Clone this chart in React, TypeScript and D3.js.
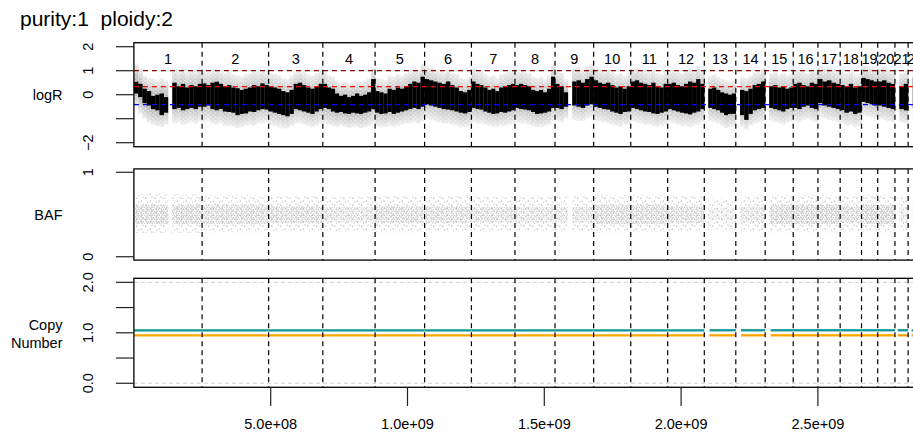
import React from 'react';
import * as d3 from 'd3';

// ---------- data ----------
const chromNames = ['1','2','3','4','5','6','7','8','9','10','11','12','13','14','15','16','17','18','19','20','21','22','X'];
const chromLengths = [249250621,243199373,198022430,191154276,180915260,171115067,159138663,146364022,141213431,135534747,135006516,133851895,115169878,107349540,102531392,90354753,81195210,78077248,59128983,63025520,48129895,51304566,155270560];

// logR: per chromosome, evenly spaced bins (null = no data)
const logRHi: (number | null)[][] = [
  [0.54,0.45,0.25,0.15,-0.05,0.0,0.05,-0.1,null,0.5,0.35,0.45,0.3,0.4,0.35,0.45],
  [0.47,0.40,0.50,0.54,0.45,0.35,0.40,0.30,0.27,0.20,0.25,0.30,0.40,0.35,0.47,0.40],
  [0.35,0.30,0.25,0.15,0.10,0.20,0.45,0.50,0.40,0.30,0.25,0.35,0.45],
  [0.45,0.30,0.25,0.05,-0.05,0.0,-0.1,-0.05,0.05,-0.05,0.0,0.1,0.65],
  [0.15,0.10,0.05,0.25,0.20,0.30,0.25,0.35,0.45,0.55,0.50,0.75],
  [0.65,0.60,0.55,0.50,0.45,0.55,0.40,0.30,0.15,0.10,0.20],
  [0.55,0.45,0.40,0.30,0.20,0.25,0.15,0.30,0.35,0.40,0.45],
  [0.40,0.45,0.40,0.35,0.20,0.15,0.20,0.10,0.25,0.75],
  [0.45,0.35,0.10,null,0.55,0.60,0.50,0.65,0.75],
  [0.60,0.50,0.45,0.50,0.40,0.30,0.35,0.25,0.35],
  [0.55,0.60,0.50,0.45,0.40,0.50,0.35,0.30,0.45],
  [0.45,0.50,0.40,0.35,0.45,0.55,0.50,0.65,0.45],
  [null,0.25,0.30,0.20,0.10,0.05,0.0,0.05],
  [null,0.20,0.15,0.25,0.40,0.45,0.55],
  [null,0.35,0.40,0.30,0.35,0.25,0.30],
  [0.45,0.50,0.40,0.35,0.50,0.45],
  [0.65,0.55,0.60,0.50,0.45],
  [0.40,0.35,0.45,0.30,0.35],
  [0.70,0.65,0.60,0.55],
  [0.55,0.60,0.50,0.45],
  [null,0.35,0.45],
  [null,0.70,0.55],
  [],
];
const logRLo: (number | null)[][] = [
  [0.05,-0.1,-0.35,-0.45,-0.6,-0.65,-0.85,-0.75,null,-0.6,-0.55,-0.65,-0.6,-0.55,-0.6,-0.5],
  [-0.5,-0.45,-0.6,-0.65,-0.6,-0.7,-0.72,-0.75,-0.85,-0.8,-0.78,-0.7,-0.72,-0.65,-0.6,-0.62],
  [-0.7,-0.75,-0.8,-0.85,-0.9,-0.8,-0.6,-0.65,-0.7,-0.75,-0.8,-0.7,-0.6],
  [-0.55,-0.6,-0.7,-0.75,-0.72,-0.78,-0.8,-0.75,-0.78,-0.8,-0.75,-0.7,-0.6],
  [-0.75,-0.8,-0.78,-0.72,-0.8,-0.75,-0.7,-0.65,-0.6,-0.55,-0.6,-0.5],
  [-0.4,-0.45,-0.5,-0.55,-0.6,-0.62,-0.65,-0.7,-0.75,-0.78,-0.72],
  [-0.55,-0.6,-0.62,-0.7,-0.75,-0.8,-0.78,-0.72,-0.75,-0.7,-0.65],
  [-0.55,-0.6,-0.62,-0.65,-0.72,-0.8,-0.78,-0.75,-0.7,-0.55],
  [-0.55,-0.6,-0.5,null,-0.45,-0.5,-0.55,-0.45,-0.4],
  [-0.5,-0.55,-0.6,-0.62,-0.7,-0.75,-0.8,-0.72,-0.7],
  [-0.55,-0.6,-0.65,-0.7,-0.72,-0.78,-0.8,-0.75,-0.7],
  [-0.6,-0.65,-0.7,-0.75,-0.78,-0.82,-0.75,-0.7,-0.6],
  [null,-0.55,-0.6,-0.65,-0.75,-0.85,-0.8,-0.8],
  [null,-0.85,-1.05,-0.8,-0.65,-0.6,-0.55],
  [null,-0.55,-0.6,-0.65,-0.7,-0.6,-0.55],
  [-0.55,-0.6,-0.5,-0.45,-0.55,-0.6],
  [-0.35,-0.45,-0.5,-0.55,-0.6],
  [-0.65,-0.75,-0.7,-0.8,-0.75],
  [-0.3,-0.35,-0.4,-0.45],
  [-0.45,-0.5,-0.55,-0.6],
  [null,-0.6,-0.65],
  [null,-0.55,-0.6],
  [],
];
const greyHi: (number | null)[][] = [
  [1.3,1.1,0.8,0.7,0.65,0.6,0.7,0.6,null,1.1,1.0,1.1,0.95,1.05,1.0,1.1],
  [1.0,0.95,1.05,1.1,1.0,0.9,0.95,0.85,0.8,0.75,0.85,0.9,1.0,0.95,1.05,1.0],
  [0.9,0.85,0.8,0.7,0.65,0.8,0.95,1.05,0.95,0.85,0.8,0.9,1.0],
  [0.95,0.8,0.75,0.6,0.5,0.55,0.5,0.55,0.6,0.55,0.6,0.7,1.15],
  [0.7,0.65,0.6,0.8,0.75,0.85,0.8,0.9,1.0,1.1,1.05,1.3],
  [1.2,1.15,1.1,1.0,0.95,1.05,0.9,0.85,0.7,0.65,0.75],
  [1.1,1.0,0.95,0.85,0.75,0.8,0.7,0.85,0.9,0.95,1.0],
  [0.95,1.0,0.95,0.9,0.75,0.7,0.75,0.65,0.8,1.3],
  [1.0,0.9,0.65,null,1.1,1.15,1.05,1.2,1.3],
  [1.15,1.05,1.0,1.05,0.95,0.85,0.9,0.8,0.9],
  [1.1,1.15,1.05,1.0,0.95,1.05,0.9,0.85,1.0],
  [1.0,1.05,0.95,0.9,1.0,1.1,1.05,1.2,1.0],
  [null,0.8,0.85,0.75,0.65,0.6,0.55,0.6],
  [null,0.75,0.7,0.8,0.95,1.0,1.1],
  [null,0.9,0.95,0.85,0.9,0.8,0.85],
  [1.0,1.05,0.95,0.9,1.05,1.0],
  [1.2,1.1,1.15,1.05,1.0],
  [0.95,0.9,1.0,0.85,0.9],
  [1.25,1.2,1.15,1.1],
  [1.1,1.15,1.05,1.0],
  [null,0.9,1.0],
  [null,1.25,1.1],
  [],
];
const greyLo: (number | null)[][] = [
  [-0.5,-0.8,-1.0,-1.15,-1.25,-1.3,-1.35,-1.25,null,-1.2,-1.15,-1.25,-1.2,-1.15,-1.2,-1.1],
  [-1.15,-1.1,-1.2,-1.25,-1.2,-1.3,-1.3,-1.35,-1.4,-1.35,-1.3,-1.25,-1.3,-1.2,-1.2,-1.15],
  [-1.25,-1.3,-1.35,-1.4,-1.4,-1.3,-1.2,-1.2,-1.25,-1.3,-1.35,-1.3,-1.2],
  [-1.2,-1.25,-1.3,-1.35,-1.3,-1.35,-1.4,-1.35,-1.35,-1.4,-1.35,-1.3,-1.2],
  [-1.3,-1.35,-1.35,-1.3,-1.35,-1.3,-1.25,-1.2,-1.2,-1.15,-1.2,-1.1],
  [-1.0,-1.05,-1.1,-1.15,-1.2,-1.2,-1.25,-1.3,-1.35,-1.35,-1.3],
  [-1.15,-1.2,-1.2,-1.25,-1.3,-1.35,-1.35,-1.3,-1.3,-1.25,-1.2],
  [-1.15,-1.2,-1.2,-1.25,-1.3,-1.35,-1.35,-1.3,-1.25,-1.1],
  [-1.1,-1.15,-1.0,null,-1.05,-1.1,-1.1,-1.0,-0.95],
  [-1.1,-1.1,-1.15,-1.2,-1.25,-1.3,-1.35,-1.25,-1.25],
  [-1.1,-1.15,-1.2,-1.25,-1.25,-1.3,-1.35,-1.3,-1.25],
  [-1.15,-1.2,-1.25,-1.3,-1.3,-1.35,-1.3,-1.25,-1.15],
  [null,-1.1,-1.15,-1.2,-1.3,-1.4,-1.35,-1.35],
  [null,-1.35,-1.45,-1.3,-1.2,-1.15,-1.1],
  [null,-1.1,-1.15,-1.2,-1.25,-1.15,-1.1],
  [-1.1,-1.15,-1.05,-1.0,-1.1,-1.15],
  [-0.9,-1.0,-1.05,-1.1,-1.15],
  [-1.2,-1.3,-1.25,-1.35,-1.3],
  [-0.85,-0.9,-0.95,-1.0],
  [-1.0,-1.05,-1.1,-1.15],
  [null,-1.15,-1.2],
  [null,-1.1,-1.15],
  [],
];

// BAF: per chromosome core band, outer band and density
const bafCoreLo = [0.39,0.39,0.40,0.41,0.40,0.40,0.41,0.41,0.41,0.39,0.39,0.40,0.42,0.41,0.39,0.39,0.39,0.40,0.39,0.39,0.41,0.40,0.41];
const bafCoreHi = [0.61,0.61,0.60,0.59,0.60,0.60,0.59,0.59,0.59,0.61,0.61,0.60,0.58,0.59,0.61,0.61,0.61,0.60,0.61,0.61,0.59,0.60,0.59];
const bafOuterLo = [0.28,0.29,0.30,0.30,0.29,0.30,0.30,0.31,0.30,0.29,0.29,0.30,0.32,0.30,0.29,0.29,0.29,0.30,0.29,0.29,0.31,0.30,0.30];
const bafOuterHi = [0.74,0.73,0.72,0.71,0.72,0.72,0.71,0.71,0.72,0.73,0.73,0.72,0.69,0.71,0.73,0.73,0.73,0.72,0.73,0.73,0.70,0.71,0.71];
const bafDensity = [0.9,0.8,0.8,0.6,0.8,0.75,0.7,0.6,0.65,0.85,0.85,0.75,0.35,0.6,0.85,0.95,0.95,0.8,1.0,0.95,0.5,0.7,0.0];

// Copy number segments
const cnStartMb = [0,0,0,0,0,0,0,0,0,0,0,0,19,19,20,0,0,0,0,0,10,13,0];
const cnMajor = [1,1,1,1,1,1,1,1,1,1,1,1,1,1,1,1,1,1,1,1,1,1,1];
const cnMinor = [1,1,1,1,1,1,1,1,1,1,1,1,1,1,1,1,1,1,1,1,1,1,1];

// reference lines and ticks
const logRRefLines = [1.0, 0.34, -0.41];
const logRRefColors = ['#8B0000', '#FF0000', '#0000FF'];
const logRTicks = [-2, -1, 0, 1, 2];
const logRTickLabels = ['\u22122', '', '0', '1', '2'];
const bafTicks = [0, 1];
const bafTickLabels = ['0', '1'];
const cnTicks = [0, 0.5, 1, 1.5, 2];
const cnTickLabels = ['0.0', '', '1.0', '', '2.0'];
const xTicks = [5e8, 1e9, 1.5e9, 2e9, 2.5e9];
const xTickLabels = ['5.0e+08', '1.0e+09', '1.5e+09', '2.0e+09', '2.5e+09'];

const FONT = '"Liberation Sans", Arial, Helvetica, sans-serif';

export default function App() {
  const W = 913, H = 437;
  const plotLeft = 133.9;
  const pxPerBase = 273.6e-9;
  const genomeEnd = d3.sum(chromLengths);
  const x = d3.scaleLinear().domain([0, genomeEnd]).range([plotLeft, plotLeft + genomeEnd * pxPerBase]);
  const plotRight = x(genomeEnd);
  const ends = Array.from(d3.cumsum(chromLengths));
  const starts = ends.map((e, i) => e - chromLengths[i]);

  const yL = d3.scaleLinear().domain([-2.167, 2.167]).range([146.7, 42.7]);
  const yB = d3.scaleLinear().domain([-0.04, 1.04]).range([260.1, 168.9]);
  const yC = d3.scaleLinear().domain([-0.08, 2.08]).range([387.3, 278.3]);

  const panels = [
    { y: yL, top: 42.7, bottom: 146.7 },
    { y: yB, top: 168.9, bottom: 260.1 },
    { y: yC, top: 278.3, bottom: 387.3 },
  ];

  const bins: { c: number; i: number; x0: number; x1: number }[] = [];
  chromLengths.forEach((len, c) => {
    const n = logRHi[c].length;
    for (let i = 0; i < n; i++) {
      bins.push({ c, i, x0: x(starts[c] + (i * len) / n), x1: x(starts[c] + ((i + 1) * len) / n) });
    }
  });

  const tickLen = 18;

  const yAxis = (scale: d3.ScaleLinear<number, number>, ticks: number[], labels: string[]) => (
    <g>
      {ticks.map((t, k) => (
        <g key={k}>
          <line x1={plotLeft - tickLen} x2={plotLeft} y1={scale(t)} y2={scale(t)} stroke="#222" strokeWidth={1.2} />
          {labels[k] && (
            <text transform={`translate(93,${scale(t)}) rotate(-90)`} textAnchor="middle" fontSize={14.5} fill="#000">
              {labels[k]}
            </text>
          )}
        </g>
      ))}
    </g>
  );

  return (
    <svg width={W} height={H} style={{ position: 'absolute', left: 0, top: 0, display: 'block', overflow: 'hidden', background: '#fff' }} fontFamily={FONT}>
      <defs>
        <linearGradient id="greyGrad" x1="0" y1="0" x2="0" y2="1">
          <stop offset="0" stopColor="#efefef" />
          <stop offset="0.3" stopColor="#bdbdbd" />
          <stop offset="0.65" stopColor="#b5b5b5" />
          <stop offset="1" stopColor="#efefef" />
        </linearGradient>
        <pattern id="greyTex" width="5" height="4" patternUnits="userSpaceOnUse">
          <rect x="0.2" y="0.3" width="1.3" height="1.3" fill="#fff" opacity="0.7" />
          <rect x="2.6" y="2.1" width="1.4" height="1.2" fill="#fff" opacity="0.65" />
          <rect x="3.9" y="0.2" width="0.9" height="1.0" fill="#fff" opacity="0.45" />
        </pattern>
        <pattern id="bafDense" width="5" height="4" patternUnits="userSpaceOnUse">
          <rect x="0.3" y="0.3" width="1.5" height="1.4" fill="#b9b9b9" />
          <rect x="2.7" y="0.9" width="1.4" height="1.4" fill="#bebebe" />
          <rect x="1.3" y="2.4" width="1.5" height="1.4" fill="#bbbbbb" />
          <rect x="3.8" y="2.8" width="1.2" height="1.2" fill="#c2c2c2" />
        </pattern>
        <pattern id="bafSparse" width="9" height="7" patternUnits="userSpaceOnUse">
          <rect x="1" y="1.5" width="1.4" height="1.4" fill="#c4c4c4" />
          <rect x="5.6" y="4.6" width="1.4" height="1.4" fill="#c4c4c4" />
          <rect x="7.4" y="0.6" width="1.3" height="1.3" fill="#cbcbcb" />
          <rect x="3.0" y="5.5" width="1.2" height="1.2" fill="#cccccc" />
        </pattern>
        <clipPath id="plotClip">
          <rect x={plotLeft} y={0} width={plotRight - plotLeft} height={H} />
        </clipPath>
      </defs>

      <text x={20} y={26} fontSize={21} fill="#000" style={{ whiteSpace: 'pre' }}>{'purity:1  ploidy:2'}</text>

      <g clipPath="url(#plotClip)">
        {/* ---- logR panel ---- */}
        {bins.map((b, k) => {
          const hi = greyHi[b.c][b.i], lo = greyLo[b.c][b.i];
          if (hi == null || lo == null) return null;
          return (
            <g key={'g' + k}>
              <rect x={b.x0} width={b.x1 - b.x0 + 0.3} y={yL(hi)} height={yL(lo) - yL(hi)} fill="url(#greyGrad)" />
              <rect x={b.x0} width={b.x1 - b.x0 + 0.3} y={yL(hi)} height={yL(lo) - yL(hi)} fill="url(#greyTex)" />
            </g>
          );
        })}
        {bins.map((b, k) => {
          const hi = logRHi[b.c][b.i], lo = logRLo[b.c][b.i];
          if (hi == null || lo == null) return null;
          return <rect key={'b' + k} x={b.x0} width={b.x1 - b.x0 + 0.2} y={yL(hi)} height={yL(lo) - yL(hi)} fill="#000" />;
        })}
        {logRRefLines.map((v, k) => (
          <line key={'r' + k} x1={plotLeft} x2={plotRight} y1={yL(v)} y2={yL(v)} stroke={logRRefColors[k]} strokeWidth={1.3} strokeDasharray="5,4" />
        ))}
        {/* ---- BAF panel ---- */}
        {bins.map((b, k) => {
          if (logRHi[b.c][b.i] == null) return null;
          const c = b.c;
          return (
            <g key={'f' + k}>
              <rect x={b.x0} width={b.x1 - b.x0 + 0.2} y={yB(bafOuterHi[c])} height={yB(bafOuterLo[c]) - yB(bafOuterHi[c])} fill="url(#bafSparse)" />
              <rect x={b.x0} width={b.x1 - b.x0 + 0.2} y={yB(bafCoreHi[c])} height={yB(bafCoreLo[c]) - yB(bafCoreHi[c])} fill="url(#bafDense)" opacity={bafDensity[c]} />
            </g>
          );
        })}
        {/* ---- Copy number panel ---- */}
        {[0, 2].map((v) => (
          <line key={'cg' + v} x1={plotLeft} x2={plotRight} y1={yC(v)} y2={yC(v)} stroke="#cfcfcf" strokeWidth={1} strokeDasharray="4,3" />
        ))}
        {chromLengths.map((len, c) => (
          <g key={'cn' + c}>
            <line x1={x(starts[c] + cnStartMb[c] * 1e6)} x2={x(ends[c])} y1={yC(cnMajor[c] + 0.05)} y2={yC(cnMajor[c] + 0.05)} stroke="#0E9594" strokeWidth={2.3} />
            <line x1={x(starts[c] + cnStartMb[c] * 1e6)} x2={x(ends[c])} y1={yC(cnMinor[c] - 0.05)} y2={yC(cnMinor[c] - 0.05)} stroke="#FFA500" strokeWidth={2.3} />
          </g>
        ))}
        {/* chromosome boundaries */}
        {panels.map((p, pi) =>
          ends.slice(0, ends.length - 1).map((e, k) => (
            <line key={`v${pi}-${k}`} x1={x(e)} x2={x(e)} y1={p.top} y2={p.bottom} stroke="#000" strokeWidth={1.2} strokeDasharray="5,4" />
          ))
        )}
        {/* chromosome labels */}
        {chromNames.map((nm, c) => (
          <text key={'cl' + c} x={x(starts[c] + chromLengths[c] / 2)} y={63.5} textAnchor="middle" fontSize={14.5} fill="#000">
            {nm}
          </text>
        ))}
      </g>

      {/* panel boxes */}
      {panels.map((p, pi) => (
        <rect key={'box' + pi} x={plotLeft} y={p.top} width={plotRight - plotLeft} height={p.bottom - p.top} fill="none" stroke="#000" strokeWidth={1.3} />
      ))}

      {yAxis(yL, logRTicks, logRTickLabels)}
      {yAxis(yB, bafTicks, bafTickLabels)}
      {yAxis(yC, cnTicks, cnTickLabels)}

      <text x={62.5} y={100} textAnchor="end" fontSize={14.5}>logR</text>
      <text x={62.5} y={219.5} textAnchor="end" fontSize={14.5}>BAF</text>
      <text x={62.5} y={330} textAnchor="end" fontSize={14.5}>Copy</text>
      <text x={62.5} y={347.5} textAnchor="end" fontSize={14.5}>Number</text>

      {xTicks.map((t, k) => (
        <g key={'xt' + k}>
          <line x1={x(t)} x2={x(t)} y1={387.3} y2={406} stroke="#222" strokeWidth={1.2} />
          <text x={x(t)} y={428.5} textAnchor="middle" fontSize={14.5}>{xTickLabels[k]}</text>
        </g>
      ))}
    </svg>
  );
}
